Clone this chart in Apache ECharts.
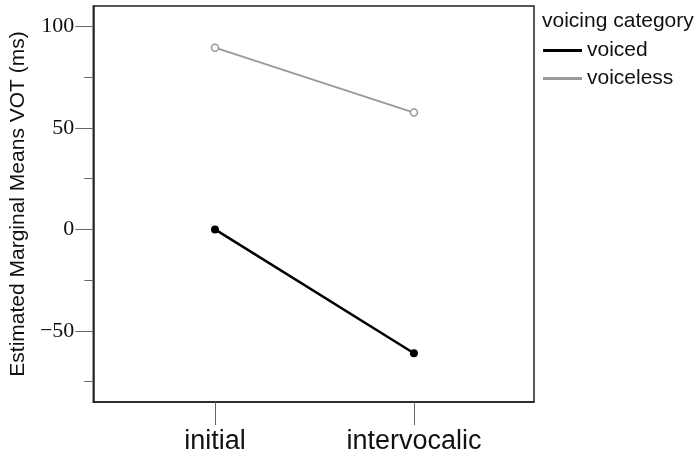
<!DOCTYPE html>
<html>
<head>
<meta charset="utf-8">
<style>
  html, body { margin: 0; padding: 0; background: #fff; }
  #chart { width: 694px; height: 456px; }
</style>
<script src="https://cdn.jsdelivr.net/npm/echarts@6/dist/echarts.min.js"></script>
</head>
<body>
<div id="chart"></div>
<script>
// Estimated marginal means of VOT by position and voicing category
const categories = ['initial', 'intervocalic'];
const seriesNames = ['voiced', 'voiceless'];
const voiced = [0, -61];
const voiceless = [89.5, 57.5];
const yMajorTicks = [-50, 0, 50, 100];
const yMinorTicks = [-75, -25, 25, 75];

const lineColors = ['#000000', '#9a9a9a'];
const toPoints = vals => vals.map((v, i) => [i, v]);
const fmtNum = v => (v < 0 ? '\u2212' + (-v) : String(v));

const chart = echarts.init(document.getElementById('chart'), null, { renderer: 'canvas' });

chart.setOption({
  backgroundColor: '#ffffff',
  animation: false,
  title: {
    text: 'voicing category',
    left: 542,
    top: 11,
    padding: 0,
    textStyle: { fontFamily: 'Liberation Sans', fontSize: 21, fontWeight: 'normal', color: '#111' }
  },
  legend: {
    orient: 'vertical',
    left: 543,
    top: 40,
    padding: 0,
    itemGap: 7,
    itemWidth: 39,
    itemHeight: 3,
    icon: 'rect',
    textStyle: { fontFamily: 'Liberation Sans', fontSize: 21, color: '#111', lineHeight: 21 },
    data: seriesNames.map((n, i) => ({
      name: n,
      itemStyle: { color: lineColors[i], borderWidth: 0 }
    }))
  },
  grid: {
    left: 91,
    right: 160,
    top: 6,
    bottom: 54,
    show: true,
    borderColor: '#222',
    borderWidth: 1.5,
    backgroundColor: '#fff'
  },
  xAxis: {
    type: 'value',
    min: -0.6115,
    max: 1.6035,
    splitLine: { show: false },
    axisLine: { show: true, onZero: false, lineStyle: { color: '#222', width: 1.5 } },
    axisTick: {
      show: true,
      customValues: categories.map((c, i) => i),
      length: 23,
      lineStyle: { color: '#666', width: 1 }
    },
    axisLabel: {
      customValues: categories.map((c, i) => i),
      formatter: v => categories[Math.round(v)],
      margin: 26,
      fontFamily: 'Liberation Sans',
      fontSize: 27,
      color: '#111'
    }
  },
  yAxis: [
    {
      type: 'value',
      min: -85,
      max: 110,
      name: 'Estimated Marginal Means VOT (ms)',
      nameLocation: 'middle',
      nameGap: 64,
      nameTextStyle: { fontFamily: 'Liberation Sans', fontSize: 21, color: '#111' },
      splitLine: { show: false },
      axisLine: { show: true, onZero: false, lineStyle: { color: '#222', width: 1.5 } },
      axisTick: { show: true, customValues: yMajorTicks, length: 18, lineStyle: { color: '#666', width: 1 } },
      axisLabel: {
        customValues: yMajorTicks,
        formatter: fmtNum,
        margin: 19,
        fontFamily: 'Liberation Serif',
        fontSize: 22,
        color: '#111'
      }
    },
    {
      type: 'value',
      position: 'left',
      min: -85,
      max: 110,
      splitLine: { show: false },
      axisLine: { show: false, onZero: false },
      axisTick: { show: true, customValues: yMinorTicks, length: 9, lineStyle: { color: '#666', width: 1 } },
      axisLabel: { show: false }
    }
  ],
  series: [
    {
      name: seriesNames[0],
      type: 'line',
      data: toPoints(voiced),
      color: lineColors[0],
      symbol: 'circle',
      symbolSize: 8,
      lineStyle: { color: lineColors[0], width: 2.5 },
      itemStyle: { color: lineColors[0] },
      z: 3
    },
    {
      name: seriesNames[1],
      type: 'line',
      data: toPoints(voiceless),
      color: lineColors[1],
      symbol: 'circle',
      symbolSize: 7,
      lineStyle: { color: lineColors[1], width: 2 },
      itemStyle: { color: '#fff', borderColor: lineColors[1], borderWidth: 1.5 },
      z: 3
    }
  ]
});
</script>
</body>
</html>
